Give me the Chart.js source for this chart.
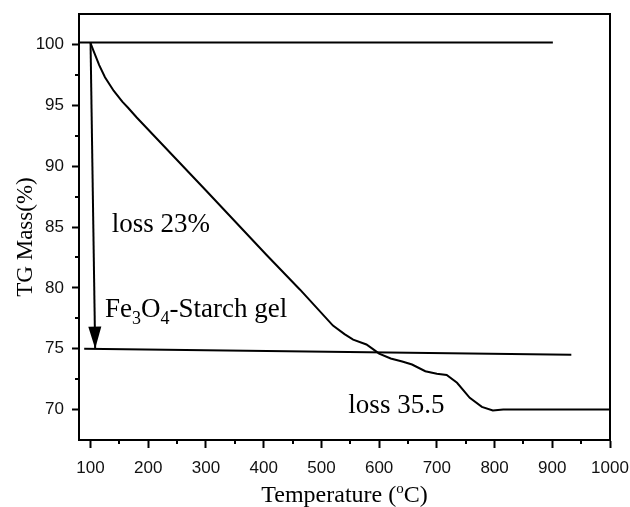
<!DOCTYPE html>
<html>
<head>
<meta charset="utf-8">
<script src="https://cdn.jsdelivr.net/npm/chart.js@4.4.1/dist/chart.umd.min.js"></script>
<style>
  html, body { margin: 0; padding: 0; background: #fff; }
  #tg { display: block; }
</style>
</head>
<body>
<canvas id="tg" width="630" height="507"></canvas>
<script>
// ---- TGA data: temperature (°C) vs. residual mass (%) ----
const tgTemperature = [100, 105, 115, 125, 140, 155, 165, 180, 300, 405, 463, 520, 540, 555, 578, 590, 600, 620, 640, 657, 680, 700, 717, 735, 757, 778, 797, 815, 1000];
const tgMass        = [100.1, 99.5, 98.3, 97.3, 96.2, 95.3, 94.8, 94.0, 88.0, 82.7, 79.85, 76.9, 76.2, 75.75, 75.35, 74.95, 74.6, 74.2, 73.95, 73.7, 73.15, 72.95, 72.85, 72.2, 70.96, 70.22, 69.92, 70.0, 70.0];

// reference levels: initial mass and mass after the first loss step
const startLevelT = [80, 901];
const startLevelM = [100.15, 100.15];
const stepLevelT  = [89, 933];
const stepLevelM  = [75.0, 74.5];

// arrow marking the 23 % loss
const arrowT = [100, 108];
const arrowM = [100.15, 75.0];

// axis ticks
const xMajorTicks = [100, 200, 300, 400, 500, 600, 700, 800, 900, 1000];
const xMinorTicks = [150, 250, 350, 450, 550, 650, 750, 850, 950];
const yMajorTicks = [70, 75, 80, 85, 90, 95, 100];
const yMinorTicks = [72.5, 77.5, 82.5, 87.5, 92.5, 97.5];

// text labels placed in data space
const noteText = ['loss 23%', 'loss 35.5'];
const noteT    = [136.8, 546.7];
const noteM    = [84.6, 69.7];
const sampleLabelT = 125;
const sampleLabelM = 77.63;

const pts = (xs, ys) => xs.map((x, i) => ({ x: x, y: ys[i] }));

const SERIF = '"Liberation Serif", "Times New Roman", serif';
const SANS  = '"Liberation Sans", Arial, sans-serif';

const lineStyle = {
  showLine: true, borderColor: '#000', backgroundColor: '#000',
  borderWidth: 2, pointRadius: 0, pointHoverRadius: 0, tension: 0, fill: false
};

const decor = {
  id: 'decor',
  afterDatasetsDraw(chart) {
    const ctx = chart.ctx;
    // arrowhead at the end of the arrow dataset
    const meta = chart.getDatasetMeta(3);
    const a = meta.data[0], b = meta.data[meta.data.length - 1];
    const ang = Math.atan2(b.y - a.y, b.x - a.x);
    const len = 22, half = 6.5;
    ctx.save();
    ctx.fillStyle = '#000';
    ctx.translate(b.x, b.y);
    ctx.rotate(ang);
    ctx.beginPath();
    ctx.moveTo(0, 0);
    ctx.lineTo(-len, -half);
    ctx.lineTo(-len, half);
    ctx.closePath();
    ctx.fill();
    ctx.restore();
  },
  afterDraw(chart) {
    const ctx = chart.ctx;
    const area = chart.chartArea;
    const xs = chart.scales.x, ys = chart.scales.y;
    ctx.save();
    // frame: top and right edges
    ctx.strokeStyle = '#000';
    ctx.lineWidth = 2;
    ctx.beginPath();
    ctx.moveTo(area.left, area.top);
    ctx.lineTo(area.right, area.top);
    ctx.lineTo(area.right, area.bottom);
    ctx.stroke();
    // minor ticks
    ctx.beginPath();
    xMinorTicks.forEach(v => {
      const p = Math.round(xs.getPixelForValue(v));
      ctx.moveTo(p, area.bottom);
      ctx.lineTo(p, area.bottom + 4);
    });
    yMinorTicks.forEach(v => {
      const p = Math.round(ys.getPixelForValue(v));
      ctx.moveTo(area.left - 4, p);
      ctx.lineTo(area.left, p);
    });
    ctx.stroke();

    // notes
    ctx.fillStyle = '#000';
    ctx.textBaseline = 'alphabetic';
    ctx.textAlign = 'left';
    ctx.font = '27px ' + SERIF;
    noteText.forEach((t, i) => {
      ctx.fillText(t, xs.getPixelForValue(noteT[i]), ys.getPixelForValue(noteM[i]));
    });
    // sample name with subscripts
    let px = xs.getPixelForValue(sampleLabelT);
    const py = ys.getPixelForValue(sampleLabelM);
    const parts = [['Fe', 0], ['3', 1], ['O', 0], ['4', 1], ['-Starch gel', 0]];
    parts.forEach(([s, sub]) => {
      ctx.font = (sub ? '18px ' : '27px ') + SERIF;
      ctx.fillText(s, px, py + (sub ? 7 : 0));
      px += ctx.measureText(s).width;
    });

    // x axis title with superscript o
    const main1 = 'Temperature (', supO = 'o', main2 = 'C)';
    ctx.font = '24px ' + SERIF;
    const w1 = ctx.measureText(main1).width, w3 = ctx.measureText(main2).width;
    ctx.font = '15px ' + SERIF;
    const w2 = ctx.measureText(supO).width;
    let tx = (area.left + area.right) / 2 - (w1 + w2 + w3) / 2;
    const ty = 501.5;
    ctx.font = '24px ' + SERIF;
    ctx.fillText(main1, tx, ty); tx += w1;
    ctx.font = '15px ' + SERIF;
    ctx.fillText(supO, tx, ty - 9); tx += w2;
    ctx.font = '24px ' + SERIF;
    ctx.fillText(main2, tx, ty);

    // y axis title
    ctx.save();
    ctx.translate(32, (area.top + area.bottom) / 2 + 10);
    ctx.rotate(-Math.PI / 2);
    ctx.textAlign = 'center';
    ctx.font = '23px ' + SERIF;
    ctx.fillText('TG Mass(%)', 0, 0);
    ctx.restore();
    ctx.restore();
  }
};

new Chart(document.getElementById('tg'), {
  type: 'scatter',
  data: {
    datasets: [
      Object.assign({ data: pts(startLevelT, startLevelM) }, lineStyle),
      Object.assign({ data: pts(stepLevelT, stepLevelM) }, lineStyle),
      Object.assign({ data: pts(tgTemperature, tgMass) }, lineStyle),
      Object.assign({ data: pts(arrowT, arrowM) }, lineStyle)
    ]
  },
  options: {
    responsive: false,
    animation: false,
    devicePixelRatio: 1,
    layout: { padding: { left: 0, right: 20, top: 14, bottom: 0 } },
    plugins: { legend: { display: false }, tooltip: { enabled: false } },
    scales: {
      x: {
        type: 'linear', min: 80, max: 1000,
        afterBuildTicks: s => { s.ticks = xMajorTicks.map(v => ({ value: v })); },
        afterFit: s => { s.height = 67; s.paddingLeft = 0; s.paddingRight = 0; },
        grid: { display: true, drawOnChartArea: false, drawTicks: true, tickLength: 8, tickColor: '#000', tickWidth: 2 },
        border: { display: true, color: '#000', width: 2 },
        ticks: { color: '#111', padding: 10, maxRotation: 0, autoSkip: false, font: { family: SANS, size: 17 },
                 callback: v => String(v) }
      },
      y: {
        type: 'linear', min: 67.5, max: 102.5,
        afterBuildTicks: s => { s.ticks = yMajorTicks.map(v => ({ value: v })); },
        afterFit: s => { s.width = 79; s.paddingTop = 0; s.paddingBottom = 0; },
        grid: { display: true, drawOnChartArea: false, drawTicks: true, tickLength: 7, tickColor: '#000', tickWidth: 2 },
        border: { display: true, color: '#000', width: 2 },
        ticks: { color: '#111', padding: 8, autoSkip: false, font: { family: SANS, size: 17 },
                 callback: v => String(v) }
      }
    }
  },
  plugins: [decor]
});
</script>
</body>
</html>
